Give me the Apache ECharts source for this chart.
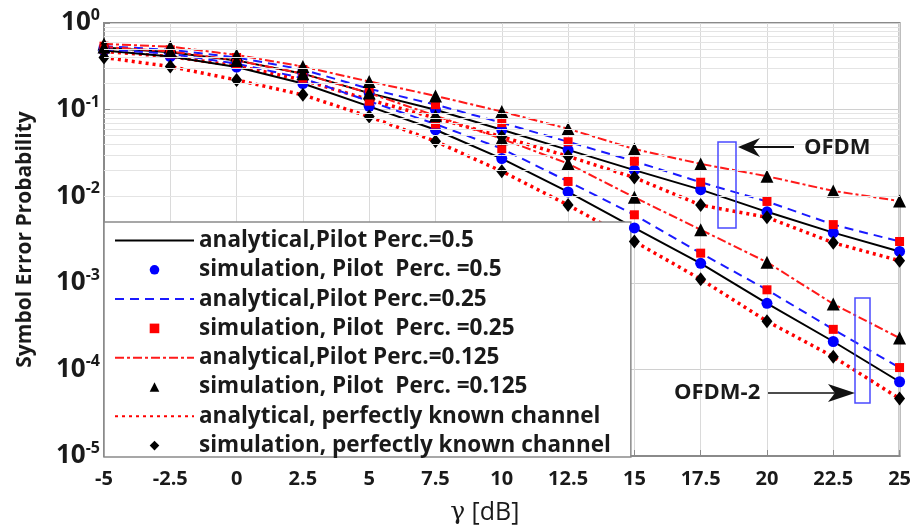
<html>

<head>
    <meta charset="utf-8">
    <script src="https://cdn.jsdelivr.net/npm/echarts@6/dist/echarts.min.js"></script>
</head>
<style>
    body {
        margin: 0;
    }

    #ser {
        width: 914px;
        height: 530px;
    }
</style>

<body>
    <div id="ser"></div>
    <script>
        // gamma in dB
        const snr = [-5, -2.5, 0, 2.5, 5, 7.5, 10, 12.5, 15, 17.5, 20, 22.5, 25]
        const yTicks = [1e-5, 1e-4, 1e-3, 1e-2, 1e-1, 1]

        // OFDM (upper group)
        const ofdm_p05 = [0.52, 0.46, 0.37, 0.26, 0.155, 0.0995, 0.0585, 0.0343, 0.020, 0.0119, 0.0066, 0.0038, 0.0023]
        const ofdm_p025 = [0.54, 0.49, 0.40, 0.29, 0.174, 0.114, 0.0706, 0.0425, 0.0253, 0.0145, 0.0087, 0.0047, 0.0030]
        const ofdm_p0125 = [0.573, 0.533, 0.428, 0.314, 0.211, 0.144, 0.095, 0.060, 0.035, 0.0236, 0.0170, 0.0115, 0.0088]
        const ofdm_perfect = [0.47, 0.41, 0.32, 0.22, 0.130, 0.080, 0.0486, 0.0289, 0.0164, 0.0079, 0.0057, 0.0029, 0.0018]

        // OFDM-2 (lower group)
        const ofdm2_p05 = [0.48, 0.41, 0.31, 0.20, 0.109, 0.0585, 0.0272, 0.0112, 0.0043, 0.00168, 0.00058, 0.00021, 0.000072]
        const ofdm2_p025 = [0.50, 0.44, 0.34, 0.23, 0.125, 0.068, 0.0354, 0.0148, 0.0061, 0.0022, 0.00083, 0.00029, 0.000105]
        const ofdm2_p0125 = [0.53, 0.47, 0.37, 0.26, 0.155, 0.085, 0.046, 0.0238, 0.0097, 0.0041, 0.00173, 0.00057, 0.00023]
        const ofdm2_perfect = [0.40, 0.314, 0.22, 0.148, 0.083, 0.043, 0.0194, 0.0079, 0.0030, 0.0011, 0.00036, 0.00014, 0.000046]

        const names = {
            a05: 'analytical,Pilot Perc.=0.5',
            s05: 'simulation, Pilot  Perc. =0.5',
            a025: 'analytical,Pilot Perc.=0.25',
            s025: 'simulation, Pilot  Perc. =0.25',
            a0125: 'analytical,Pilot Perc.=0.125',
            s0125: 'simulation, Pilot  Perc. =0.125',
            aper: 'analytical, perfectly known channel',
            sper: 'simulation, perfectly known channel'
        }

        const FONT = 'Open Sans'
        const TXT = '#1a1a1a'

        function pairs(arr) {
            return snr.map(function (x, i) { return [x, arr[i]] })
        }

        function lineSeries(name, arr, color, type, width, cap) {
            return {
                name: name,
                type: 'line',
                data: pairs(arr),
                symbol: 'none',
                z: 2,
                lineStyle: { color: color, width: width || 2, type: type, cap: cap || 'butt' },
                itemStyle: { color: color }
            }
        }

        // markers only: a line series with an invisible line
        function simSeries(name, arr, color, symbol, size) {
            return {
                name: name,
                type: 'line',
                data: pairs(arr),
                symbol: symbol,
                symbolSize: size,
                showSymbol: true,
                z: 4,
                lineStyle: { width: 0, opacity: 0 },
                itemStyle: { color: color, opacity: 1 }
            }
        }

        // light minor grid lines of the log axis (2..9 in every decade)
        let minorLines = []
        for (let k = -5; k < 0; k++) {
            for (let m = 2; m <= 9; m++) {
                minorLines.push({ yAxis: m * Math.pow(10, k) })
            }
        }

        let series = [{
            name: 'minor',
            type: 'line',
            data: [],
            z: 0,
            silent: true,
            markLine: {
                silent: true,
                symbol: 'none',
                label: { show: false },
                lineStyle: { color: '#e4e4e4', width: 1, type: 'solid' },
                data: minorLines
            }
        }]

        const groups = [
            [ofdm_p05, ofdm_p025, ofdm_p0125, ofdm_perfect],
            [ofdm2_p05, ofdm2_p025, ofdm2_p0125, ofdm2_perfect]
        ]
        groups.forEach(function (g) {
            series.push(lineSeries(names.a05, g[0], '#000000', 'solid'))
            series.push(simSeries(names.s05, g[0], '#0000ff', 'circle', 11))
            series.push(lineSeries(names.a025, g[1], '#1a1aff', [9, 6]))
            series.push(simSeries(names.s025, g[1], '#ff0000', 'rect', 9))
            series.push(lineSeries(names.a0125, g[2], '#ff1a1a', [9, 3, 3, 3]))
            series.push(simSeries(names.s0125, g[2], '#000000', 'triangle', 13))
            series.push(lineSeries(names.aper, g[3], '#ff0000', [3, 4], 3.5))
            series.push(simSeries(names.sper, g[3], '#000000', 'diamond', [11, 14]))
        })

        // legend rows: lines without a marker, markers without a line
        const noMark = { color: 'rgba(0,0,0,0)', borderWidth: 0 }
        const legendData = [
            { name: names.a05, itemStyle: noMark },
            { name: names.s05 },
            { name: names.a025, itemStyle: noMark },
            { name: names.s025 },
            { name: names.a0125, itemStyle: noMark },
            { name: names.s0125 },
            { name: names.aper, itemStyle: noMark },
            { name: names.sper }
        ]

        const option = {
            animation: false,
            backgroundColor: '#ffffff',
            textStyle: { fontFamily: FONT },
            grid: {
                left: 104,
                right: 10,
                top: 23,
                bottom: 73,
                show: true,
                borderColor: '#8a8a8a',
                borderWidth: 2
            },
            legend: {
                orient: 'vertical',
                left: 104,
                top: 222,
                padding: [7, 20, 0, 10],
                itemWidth: 79,
                itemHeight: 12,
                itemGap: 6.3,
                itemTextGap: 10,
                backgroundColor: '#ffffff',
                borderColor: '#8a8a8a',
                borderWidth: 1.5,
                textStyle: {
                    fontFamily: FONT,
                    fontWeight: 'bold',
                    fontSize: 22.5,
                    lineHeight: 20,
                    color: TXT
                },
                data: legendData
            },
            xAxis: [{
                type: 'value',
                min: -5,
                max: 25,
                interval: 2.5,
                name: '{g|γ} [dB]',
                nameLocation: 'middle',
                nameGap: 44,
                nameTextStyle: {
                    fontFamily: FONT,
                    fontSize: 25,
                    color: TXT,
                    padding: [0, 34, 0, 0],
                    rich: {
                        g: { fontFamily: 'DejaVu Serif', fontSize: 25, color: TXT }
                    }
                },
                axisLine: { onZero: false, lineStyle: { color: '#8a8a8a', width: 2 } },
                axisTick: { inside: true, length: 6, lineStyle: { color: '#8a8a8a' } },
                axisLabel: {
                    margin: 13,
                    fontFamily: FONT,
                    fontWeight: 'bold',
                    fontSize: 20,
                    color: TXT,
                    formatter: function (v) { return String(v) }
                },
                splitLine: { show: true, lineStyle: { color: '#dadada', width: 1 } }
            }],
            yAxis: [{
                type: 'log',
                logBase: 10,
                min: yTicks[0],
                max: yTicks[yTicks.length - 1],
                splitNumber: 5,
                name: 'Symbol Error Probability',
                nameLocation: 'middle',
                nameGap: 68,
                nameTextStyle: {
                    fontFamily: FONT,
                    fontWeight: 'bold',
                    fontSize: 21,
                    color: TXT
                },
                axisLine: { onZero: false, lineStyle: { color: '#8a8a8a', width: 2 } },
                axisTick: { inside: true, length: 6, lineStyle: { color: '#8a8a8a' } },
                axisLabel: {
                    margin: 4,
                    color: TXT,
                    formatter: function (v) {
                        const e = Math.round(Math.log10(v))
                        return '{b|10}{s|' + e + '}'
                    },
                    rich: {
                        b: { fontFamily: FONT, fontWeight: 'bold', fontSize: 26, color: TXT },
                        s: { fontFamily: FONT, fontWeight: 'bold', fontSize: 16, color: TXT, padding: [0, 0, 15, 0] }
                    }
                },
                splitLine: { show: true, lineStyle: { color: '#d0d0d0', width: 1 } }
            }],
            graphic: [
                // OFDM annotation
                { type: 'rect', shape: { x: 718, y: 142, width: 18, height: 86 }, style: { fill: 'none', stroke: '#4a4aff', lineWidth: 1.5 }, z: 10 },
                { type: 'line', shape: { x1: 794, y1: 147, x2: 752, y2: 147 }, style: { stroke: '#111', lineWidth: 2 }, z: 10 },
                { type: 'polygon', shape: { points: [[738, 147], [760, 138], [753, 147], [760, 157]] }, style: { fill: '#111' }, z: 10 },
                { type: 'text', x: 804, y: 148, style: { text: 'OFDM', font: 'bold 22px "Open Sans"', fill: TXT, verticalAlign: 'middle' }, z: 10 },
                // OFDM-2 annotation
                { type: 'rect', shape: { x: 855, y: 298, width: 15, height: 105 }, style: { fill: 'none', stroke: '#4a4aff', lineWidth: 1.5 }, z: 10 },
                { type: 'line', shape: { x1: 768, y1: 393, x2: 840, y2: 393 }, style: { stroke: '#111', lineWidth: 1.5 }, z: 10 },
                { type: 'polygon', shape: { points: [[855, 393], [828, 384], [835, 393], [828, 402]] }, style: { fill: '#111' }, z: 10 },
                { type: 'text', x: 674, y: 393, style: { text: 'OFDM-2', font: 'bold 22px "Open Sans"', fill: TXT, verticalAlign: 'middle' }, z: 10 }
            ],
            series: series
        }

        const myChart = echarts.init(document.getElementById('ser'))
        myChart.setOption(option)
    </script>
</body>

</html>
